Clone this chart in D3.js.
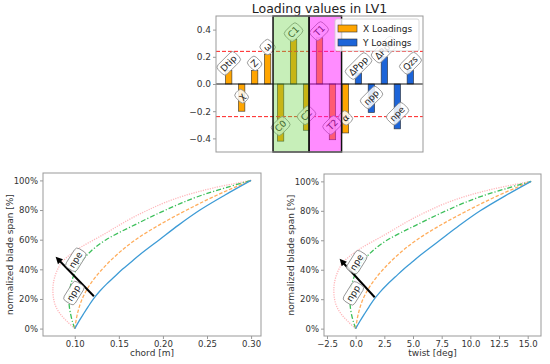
<!DOCTYPE html>
<html><head><meta charset="utf-8">
<script src="https://cdn.jsdelivr.net/npm/d3@7"></script>
<style>body{margin:0;background:#fff} svg{display:block;font-family:"DejaVu Sans",sans-serif}</style>
</head><body><svg id="c" width="550" height="364"></svg>
<script>
// ---------- data: top loading chart ----------
const categories = ["Dtip","χ","Z","ω","C0","C1","C2","T1","T2","α","ΔPpp","npp","ΔPpe","npe","Qzs"];
const xLoadings = [0.10,-0.20,0.10,0.22,-0.42,0.33,-0.34,0.34,-0.41,-0.36];
const yLoadings = [0.08,-0.21,0.20,-0.33,0.10];
const threshold = 0.24;
const topYTicks = [-0.4,-0.2,0.0,0.2,0.4];
const greenSpan = [3.42, 6.2];
const magentaSpan = [6.2, 8.7];
const legendLabels = ["X Loadings","Y Loadings"];

// ---------- data: span curves (span fraction, chord [m], twist [deg]) ----------
const spanBlue   = [0,0.05,0.1,0.15,0.2,0.25,0.3,0.35,0.4,0.45,0.5,0.6,0.7,0.8,0.9,1.0];
const chordBlue  = [0.1,0.1048,0.11,0.1154,0.1212,0.128,0.136,0.145,0.154,0.164,0.174,0.196,0.218,0.242,0.270,0.3];
const twistBlue  = [0,0.37,0.77,1.18,1.62,2.14,2.75,3.44,4.13,4.90,5.66,7.34,9.03,10.86,13.0,15.3];

const spanOrange  = [0,0.1,0.2,0.3,0.4,0.5,0.6,0.7,0.8,0.9,1.0];
const chordOrange = [0.100,0.103,0.1084,0.1176,0.131,0.148,0.169,0.196,0.227,0.261,0.300];
const twistOrange = [0,0.23,0.64,1.35,2.37,3.67,5.28,7.34,9.72,12.32,15.3];

const spanGreen  = [0,0.05,0.1,0.15,0.2,0.25,0.3,0.35,0.4,0.45,0.5,0.55,0.6,0.65,0.7,0.75,0.8,0.85,0.9,0.95,1.0];
const chordGreen = [0.1,0.0972,0.0952,0.0938,0.0934,0.094,0.0956,0.0982,0.102,0.107,0.1144,0.1236,0.1356,0.151,0.168,0.185,0.203,0.222,0.244,0.271,0.3];
const twistGreen = [0,-0.21,-0.37,-0.47,-0.50,-0.46,-0.34,-0.14,0.15,0.54,1.10,1.81,2.72,3.90,5.20,6.50,7.88,9.33,11.02,13.08,15.3];

const spanPink  = [0,0.05,0.1,0.15,0.2,0.25,0.3,0.35,0.4,0.45,0.5,0.55,0.6,0.65,0.7,0.75,0.8,0.85,0.9,0.95,1.0];
const chordPink = [0.1,0.091,0.0834,0.0784,0.076,0.0752,0.0756,0.0774,0.0806,0.0856,0.095,0.107,0.122,0.137,0.151,0.166,0.183,0.202,0.226,0.258,0.3];
const twistPink = [0,-0.69,-1.27,-1.65,-1.84,-1.90,-1.87,-1.73,-1.48,-1.10,-0.38,0.54,1.68,2.83,3.90,5.05,6.35,7.80,9.64,12.09,15.3];

const chordTicks = [0.10,0.15,0.20,0.25,0.30];
const twistTicks = [-2.5,0,2.5,5,7.5,10,12.5,15];
const spanTicks = [0,0.2,0.4,0.6,0.8,1.0];
// arrow (start -> end) and labels
const arrowChord = [[0.1217,0.218],[0.0783,0.485]];
const arrowTwist = [[1.66,0.213],[-1.40,0.474]];
const arrowLabels = ["npe","npp"];
const arrowLabelChord = [[0.1011,0.463],[0.0989,0.239]];
const arrowLabelTwist = [[0.09,0.450],[-0.2,0.239]];

// ---------- drawing ----------
const svg = d3.select("#c");
const FRAME = "#999";
const TXT = "#333";
const fmtMinus = s => s.replace("-", "\u2212");

function labelBox(g, cx, cy, text, angle, fs, padX, padY) {
  const grp = g.append("g").attr("transform", `translate(${cx},${cy}) rotate(${angle})`);
  const rect = grp.append("rect");
  const t = grp.append("text").attr("text-anchor","middle").attr("dominant-baseline","central")
    .attr("font-size", fs).attr("fill","#222").text(text);
  const bb = t.node().getBBox();
  rect.attr("x", bb.x-padX).attr("y", bb.y-padY).attr("width", bb.width+2*padX).attr("height", bb.height+2*padY)
    .attr("rx", 3.5).attr("fill","#fff").attr("fill-opacity",0.85).attr("stroke","#888").attr("stroke-width",0.8);
  return grp;
}

// ===== Top chart =====
const T = {l:216, r:423, t:16, b:152};
const allVals = xLoadings.concat(yLoadings);
const xb = d3.scaleLinear().domain([-0.975, categories.length - 1 + 0.975]).range([T.l, T.r]);
const yb = d3.scaleLinear().domain([-0.5, 0.5]).range([T.b, T.t]);
const topG = svg.append("g");

topG.append("text").attr("x",(T.l+T.r)/2).attr("y",13).attr("text-anchor","middle")
  .attr("font-size",12.5).attr("fill","#222").text("Loading values in LV1");

// y axis
const yAx = topG.append("g").attr("transform",`translate(${T.l},0)`)
  .call(d3.axisLeft(yb).tickValues(topYTicks).tickFormat(d=>fmtMinus(d3.format(".1f")(d))).tickSize(3).tickPadding(2));
yAx.select(".domain").remove();
yAx.selectAll("line").attr("stroke",FRAME);
yAx.selectAll("text").attr("font-size",9).attr("fill",TXT).attr("font-family","DejaVu Sans");

// bars
const barW = 0.5;
topG.append("g").selectAll("rect").data(allVals).join("rect")
  .attr("x",(d,i)=>xb(i-barW/2)).attr("width",xb(barW)-xb(0))
  .attr("y",d=>yb(Math.max(0,d))).attr("height",d=>Math.abs(yb(d)-yb(0)))
  .attr("fill",(d,i)=> i < xLoadings.length ? "#FFA500" : "#1c64d8")
  .attr("stroke","#333").attr("stroke-width",0.6);

// zero line & thresholds
topG.append("line").attr("x1",T.l).attr("x2",T.r).attr("y1",yb(0)).attr("y2",yb(0)).attr("stroke","#111").attr("stroke-width",1.1);
[threshold,-threshold].forEach(v=>{
  topG.append("line").attr("x1",T.l).attr("x2",T.r).attr("y1",yb(v)).attr("y2",yb(v))
    .attr("stroke","#ff2020").attr("stroke-width",1).attr("stroke-dasharray","4,2");
});

// bar labels
const lab = topG.append("g");
allVals.forEach((v,i)=>{
  const cy = v >= 0 ? yb(v) - 7 : yb(v) - 15;
  labelBox(lab, xb(i), cy, categories[i], -45, 9, 2.5, 1.5);
});

// highlight rectangles
[[greenSpan,"#64d23c",0.36],[magentaSpan,"#ff00ff",0.45]].forEach(([sp,col,op])=>{
  topG.append("rect").attr("x",xb(sp[0])).attr("width",xb(sp[1])-xb(sp[0]))
    .attr("y",T.t).attr("height",T.b-T.t).attr("fill",col).attr("fill-opacity",op)
    .attr("stroke","#111").attr("stroke-width",1.5);
});

// frame
topG.append("rect").attr("x",T.l).attr("y",T.t).attr("width",T.r-T.l).attr("height",T.b-T.t)
  .attr("fill","none").attr("stroke",FRAME).attr("stroke-width",1);

// legend
const lg = topG.append("g");
lg.append("rect").attr("x",335).attr("y",19).attr("width",84).attr("height",32).attr("rx",2)
  .attr("fill","#fff").attr("fill-opacity",0.8).attr("stroke","#ccc").attr("stroke-width",0.8);
legendLabels.forEach((l,i)=>{
  lg.append("rect").attr("x",338).attr("y",25+i*14).attr("width",19).attr("height",7)
    .attr("fill", i===0 ? "#FFA500" : "#1c64d8").attr("stroke","#333").attr("stroke-width",0.6);
  lg.append("text").attr("x",363).attr("y",28.5+i*14).attr("dominant-baseline","central")
    .attr("font-size",9).attr("fill","#222").text(l);
});

// ===== bottom charts =====
function spanPlot(box, curves, ticks, fmt, xlabel, arrow, labelPos) {
  const g = svg.append("g");
  const allX = curves.flatMap(c=>c.x);
  const [mn,mx] = d3.extent(allX);
  const pad = (mx-mn)*0.05;
  const x = d3.scaleLinear().domain([mn-pad, mx+pad]).range([box.l, box.r]);
  const y = d3.scaleLinear().domain([-0.05,1.05]).range([box.b, box.t]);

  const xa = g.append("g").attr("transform",`translate(0,${box.b})`)
    .call(d3.axisBottom(x).tickValues(ticks).tickFormat(fmt).tickSize(3).tickPadding(2));
  const ya = g.append("g").attr("transform",`translate(${box.l},0)`)
    .call(d3.axisLeft(y).tickValues(spanTicks).tickFormat(d3.format(".0%")).tickSize(3).tickPadding(2));
  [xa,ya].forEach(a=>{
    a.select(".domain").remove();
    a.selectAll("line").attr("stroke",FRAME);
    a.selectAll("text").attr("font-size",8.5).attr("fill",TXT).attr("font-family","DejaVu Sans");
  });

  const line = d3.line().x(d=>x(d[0])).y(d=>y(d[1])).curve(d3.curveCatmullRom.alpha(0.5));
  curves.forEach(c=>{
    g.append("path").attr("d", line(c.x.map((v,i)=>[v,c.s[i]])))
      .attr("fill","none").attr("stroke",c.color).attr("stroke-width",1.3)
      .attr("stroke-dasharray",c.dash);
  });

  // arrow
  const p0 = [x(arrow[0][0]), y(arrow[0][1])], p1 = [x(arrow[1][0]), y(arrow[1][1])];
  const dx = p1[0]-p0[0], dy = p1[1]-p0[1], L = Math.hypot(dx,dy);
  const u = [dx/L, dy/L], n = [-u[1], u[0]];
  const hl = 7, hw = 3.5;
  g.append("line").attr("x1",p0[0]).attr("y1",p0[1]).attr("x2",p1[0]-u[0]*hl*0.8).attr("y2",p1[1]-u[1]*hl*0.8)
    .attr("stroke","#000").attr("stroke-width",2);
  g.append("polygon").attr("points",[
    p1, [p1[0]-u[0]*hl+n[0]*hw, p1[1]-u[1]*hl+n[1]*hw], [p1[0]-u[0]*hl-n[0]*hw, p1[1]-u[1]*hl-n[1]*hw]
  ].map(p=>p.join(",")).join(" ")).attr("fill","#000");

  arrowLabels.forEach((t,i)=>{
    labelBox(g, x(labelPos[i][0]), y(labelPos[i][1]), t, -58, 9, 2.5, 1.5);
  });

  g.append("rect").attr("x",box.l).attr("y",box.t).attr("width",box.r-box.l).attr("height",box.b-box.t)
    .attr("fill","none").attr("stroke",FRAME).attr("stroke-width",1);

  g.append("text").attr("x",(box.l+box.r)/2).attr("y",box.b+20).attr("text-anchor","middle")
    .attr("font-size",9).attr("fill",TXT).text(xlabel);
  g.append("text").attr("transform",`translate(${box.l-30},${(box.t+box.b)/2}) rotate(-90)`)
    .attr("text-anchor","middle").attr("font-size",9).attr("fill",TXT).text("normalized blade span [%]");
}

const colors = {blue:"#3d9bd6", orange:"#ffad5c", green:"#3cbf5a", pink:"#ffb6ba"};
spanPlot({l:43,r:261,t:173,b:336}, [
  {x:chordPink, s:spanPink, color:colors.pink, dash:"1.2,1.2"},
  {x:chordGreen, s:spanGreen, color:colors.green, dash:"5,2,1.2,2"},
  {x:chordOrange, s:spanOrange, color:colors.orange, dash:"3.5,1.8"},
  {x:chordBlue, s:spanBlue, color:colors.blue, dash:null}
], chordTicks, d3.format(".2f"), "chord [m]", arrowChord, arrowLabelChord);

spanPlot({l:324,r:541,t:174,b:336}, [
  {x:twistPink, s:spanPink, color:colors.pink, dash:"1.2,1.2"},
  {x:twistGreen, s:spanGreen, color:colors.green, dash:"5,2,1.2,2"},
  {x:twistOrange, s:spanOrange, color:colors.orange, dash:"3.5,1.8"},
  {x:twistBlue, s:spanBlue, color:colors.blue, dash:null}
], twistTicks, d=>fmtMinus(d3.format(".1f")(d)), "twist [deg]", arrowTwist, arrowLabelTwist);
</script></body></html>
